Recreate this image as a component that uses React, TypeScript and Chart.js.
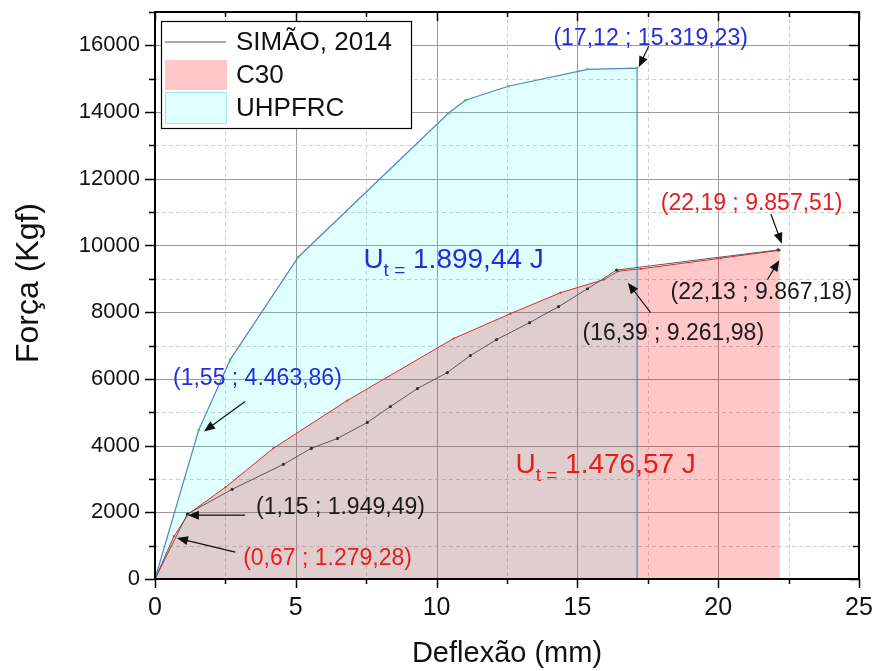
import React, { useEffect, useRef } from 'react';
import { Chart, registerables } from 'chart.js';

Chart.register(...registerables);

const FONT = '"Liberation Sans", Arial, Helvetica, sans-serif';

// ---- data ----
const seriesLabels = ['SIMÃO, 2014', 'C30', 'UHPFRC'];

const simaoX = [0, 1.15, 2.74, 4.56, 5.55, 6.48, 7.54, 8.36, 9.32, 10.38, 11.2, 12.13, 13.3, 14.33, 15.36, 16.39, 22.13];
const simaoY = [0, 1949.49, 2690, 3438, 3916, 4215, 4694, 5172, 5710, 6190, 6700, 7178, 7686, 8165, 8703, 9261.98, 9867.18];

const c30X = [0, 0.67, 1.2, 2.5, 4.2, 6.83, 10.6, 12.62, 14.4, 15.93, 16.46, 17.25, 20.1, 22.19];
const c30Y = [0, 1279.28, 1960, 2750, 3918, 5354, 7208, 7955, 8584, 8973, 9230, 9300, 9620, 9857.51];

const uhpX = [0, 1.55, 2.67, 5.09, 10.42, 11.02, 12.55, 15.36, 17.12, 17.12];
const uhpY = [0, 4463.86, 6577, 9656, 13966, 14355, 14774, 15282, 15319.23, 0];

// axes
const xMin = 0, xMax = 25, xStep = 2.5, xMajor = 5;
const yMin = 0, yMax = 17000, yStep = 1000, yMajor = 2000;
const xTitle = 'Deflexão (mm)';
const yTitle = 'Força (Kgf)';

// point annotations (data units)
const noteTexts = ['(17,12 ; 15.319,23)', '(22,19 ; 9.857,51)', '(22,13 ; 9.867,18)', '(16,39 ; 9.261,98)', '(1,55 ; 4.463,86)', '(1,15 ; 1.949,49)', '(0,67 ; 1.279,28)'];
const noteColors = ['#1f2ee0', '#e81c1c', '#1a1a1a', '#1a1a1a', '#1f2ee0', '#1a1a1a', '#e81c1c'];
const noteX = [14.15, 17.96, 18.31, 15.18, 0.64, 3.59, 3.13];
const noteY = [16210, 11245, 8583, 7357, 6011, 2153, 598];
const arrowFromX = [17.53, 21.87, 21.75, 17.6, 3.2, 3.2, 2.85];
const arrowFromY = [15970, 10946, 8980, 7985, 5323, 1914, 807];
const arrowToX = [17.18, 22.26, 22.17, 16.79, 1.74, 1.17, 0.78];
const arrowToY = [15342, 10049, 9560, 8882, 4426, 1914, 1226];

// energy labels
const energyTexts = ['1.899,44 J', '1.476,57 J'];
const energyColors = ['#1f2ee0', '#e81c1c'];
const energyX = [7.4, 12.8];
const energyY = [9331, 3170];

const C30_FILL = 'rgba(255,0,0,0.22)';
const UHP_FILL = 'rgba(0,255,255,0.12)';

function isMult(v: number, m: number) {
  const r = Math.abs(v / m - Math.round(v / m));
  return r < 1e-6;
}

function drawArrow(ctx: CanvasRenderingContext2D, x1: number, y1: number, x2: number, y2: number) {
  const ang = Math.atan2(y2 - y1, x2 - x1);
  const hl = 11, hw = 4.5;
  ctx.beginPath();
  ctx.moveTo(x1, y1);
  ctx.lineTo(x2 - Math.cos(ang) * hl * 0.8, y2 - Math.sin(ang) * hl * 0.8);
  ctx.strokeStyle = '#111';
  ctx.lineWidth = 1.2;
  ctx.stroke();
  ctx.beginPath();
  ctx.moveTo(x2, y2);
  ctx.lineTo(x2 - Math.cos(ang) * hl - Math.sin(ang) * hw, y2 - Math.sin(ang) * hl + Math.cos(ang) * hw);
  ctx.lineTo(x2 - Math.cos(ang) * hl + Math.sin(ang) * hw, y2 - Math.sin(ang) * hl - Math.cos(ang) * hw);
  ctx.closePath();
  ctx.fillStyle = '#111';
  ctx.fill();
}

const decorPlugin = {
  id: 'decor',
  beforeDraw(chart: any) {
    const { ctx, chartArea: ca } = chart;
    const xs = chart.scales.x, ys = chart.scales.y;
    ctx.save();
    ctx.lineWidth = 1;
    xs.ticks.forEach((t: any) => {
      const px = Math.round(xs.getPixelForValue(t.value)) + 0.5;
      const major = isMult(t.value, xMajor);
      ctx.strokeStyle = major ? '#9c9c9c' : '#cfcfcf';
      ctx.setLineDash(major ? [] : [4, 3]);
      ctx.beginPath();
      ctx.moveTo(px, ca.top);
      ctx.lineTo(px, ca.bottom);
      ctx.stroke();
    });
    ys.ticks.forEach((t: any) => {
      const py = Math.round(ys.getPixelForValue(t.value)) + 0.5;
      const major = isMult(t.value, yMajor);
      ctx.strokeStyle = major ? '#9c9c9c' : '#cfcfcf';
      ctx.setLineDash(major ? [] : [4, 3]);
      ctx.beginPath();
      ctx.moveTo(ca.left, py);
      ctx.lineTo(ca.right, py);
      ctx.stroke();
    });
    ctx.restore();
  },
  afterDraw(chart: any) {
    const { ctx, chartArea: ca } = chart;
    const xs = chart.scales.x, ys = chart.scales.y;
    ctx.save();
    ctx.setLineDash([]);
    // frame
    ctx.strokeStyle = '#000';
    ctx.lineWidth = 2;
    ctx.strokeRect(ca.left, ca.top, ca.right - ca.left, ca.bottom - ca.top);
    // tick marks
    ctx.lineWidth = 1.5;
    xs.ticks.forEach((t: any) => {
      const px = Math.round(xs.getPixelForValue(t.value)) + 0.5;
      const len = isMult(t.value, xMajor) ? 9 : 5;
      ctx.beginPath();
      ctx.moveTo(px, ca.bottom);
      ctx.lineTo(px, ca.bottom + len);
      ctx.moveTo(px, ca.top);
      ctx.lineTo(px, ca.top + len);
      ctx.stroke();
    });
    ys.ticks.forEach((t: any) => {
      const py = Math.round(ys.getPixelForValue(t.value)) + 0.5;
      const len = isMult(t.value, yMajor) ? 10 : 6;
      ctx.beginPath();
      ctx.moveTo(ca.left, py);
      ctx.lineTo(ca.left - len, py);
      ctx.moveTo(ca.right, py);
      ctx.lineTo(ca.right - len, py);
      ctx.stroke();
    });

    // y-axis title
    ctx.save();
    ctx.translate(29, 283);
    ctx.rotate(-Math.PI / 2);
    ctx.textAlign = 'center';
    ctx.textBaseline = 'middle';
    ctx.fillStyle = '#111';
    ctx.font = `32px ${FONT}`;
    ctx.fillText(yTitle, 0, 0);
    ctx.restore();

    // annotations
    ctx.textAlign = 'left';
    ctx.textBaseline = 'middle';
    ctx.font = `23px ${FONT}`;
    noteTexts.forEach((txt, i) => {
      ctx.fillStyle = noteColors[i];
      ctx.fillText(txt, xs.getPixelForValue(noteX[i]), ys.getPixelForValue(noteY[i]));
      drawArrow(ctx,
        xs.getPixelForValue(arrowFromX[i]), ys.getPixelForValue(arrowFromY[i]),
        xs.getPixelForValue(arrowToX[i]), ys.getPixelForValue(arrowToY[i]));
    });

    // energy labels with subscript
    ctx.textBaseline = 'alphabetic';
    energyTexts.forEach((txt, i) => {
      const px = xs.getPixelForValue(energyX[i]);
      const py = ys.getPixelForValue(energyY[i]);
      ctx.fillStyle = energyColors[i];
      ctx.font = `28px ${FONT}`;
      ctx.fillText('U', px, py);
      let w = ctx.measureText('U').width;
      ctx.font = `19px ${FONT}`;
      ctx.fillText('t =', px + w, py + 8);
      w += ctx.measureText('t =').width;
      ctx.font = `28px ${FONT}`;
      ctx.fillText(' ' + txt, px + w, py);
    });

    // legend
    const lx = ca.left + 6, ly = ca.top + 9, lw = 250, lh = 107;
    ctx.fillStyle = '#fff';
    ctx.fillRect(lx, ly, lw, lh);
    ctx.strokeStyle = '#000';
    ctx.lineWidth = 1.2;
    ctx.strokeRect(lx + 0.5, ly + 0.5, lw, lh);
    const rows = [21, 54, 87];
    const ds = chart.data.datasets;
    ctx.strokeStyle = '#888';
    ctx.lineWidth = 1.5;
    ctx.beginPath();
    ctx.moveTo(lx + 4, ly + rows[0]);
    ctx.lineTo(lx + 65, ly + rows[0]);
    ctx.stroke();
    ctx.fillStyle = ds[1].backgroundColor;
    ctx.fillRect(lx + 4, ly + rows[1] - 15, 62, 30);
    ctx.fillStyle = ds[2].backgroundColor;
    ctx.fillRect(lx + 4, ly + rows[2] - 16, 62, 32);
    ctx.strokeStyle = 'rgba(140,220,220,0.7)';
    ctx.lineWidth = 1;
    ctx.strokeRect(lx + 4.5, ly + rows[2] - 15.5, 61, 31);
    ctx.fillStyle = '#111';
    ctx.font = `26px ${FONT}`;
    ctx.textBaseline = 'middle';
    ds.forEach((d: any, i: number) => {
      ctx.fillText(d.label, lx + 75, ly + rows[i] + 1);
    });
    ctx.restore();
  },
};

export default function App() {
  const ref = useRef<HTMLCanvasElement | null>(null);
  useEffect(() => {
    if (!ref.current) return;
    const chart = new Chart(ref.current, {
      type: 'line',
      data: {
        datasets: [
          {
            label: seriesLabels[0],
            data: simaoX.map((x, i) => ({ x, y: simaoY[i] })),
            borderColor: '#5a5a5a',
            borderWidth: 1,
            pointRadius: 1.6,
            pointBackgroundColor: '#333',
            pointBorderWidth: 0,
            fill: false,
            order: 0,
          },
          {
            label: seriesLabels[1],
            data: c30X.map((x, i) => ({ x, y: c30Y[i] })),
            borderColor: '#e02828',
            borderWidth: 1,
            pointRadius: 1,
            pointBackgroundColor: '#e02828',
            pointBorderWidth: 0,
            backgroundColor: C30_FILL,
            fill: 'origin',
            order: 2,
          },
          {
            label: seriesLabels[2],
            data: uhpX.map((x, i) => ({ x, y: uhpY[i] })),
            borderColor: '#4a86cc',
            borderWidth: 1.2,
            pointRadius: uhpX.map((_, i) => (i === uhpX.length - 1 ? 0 : 1.3)),
            pointBackgroundColor: '#3ccf3c',
            pointBorderWidth: 0,
            backgroundColor: UHP_FILL,
            fill: 'origin',
            order: 1,
          },
        ],
      },
      options: {
        animation: false,
        responsive: false,
        devicePixelRatio: 1,
        layout: { padding: { top: 12, right: 18, left: 0, bottom: 0 } },
        plugins: {
          legend: { display: false },
          tooltip: { enabled: false },
          filler: { drawTime: 'beforeDatasetsDraw' },
        },
        scales: {
          x: {
            type: 'linear',
            min: xMin,
            max: xMax,
            afterFit: (s: any) => { s.height = 92; s.paddingLeft = 0; s.paddingRight = 0; },
            grid: { display: false, drawTicks: false },
            border: { display: false },
            ticks: {
              stepSize: xStep,
              padding: 14,
              color: '#111',
              font: { family: FONT, size: 25 },
              maxRotation: 0,
              autoSkip: false,
              callback: (v: any) => (isMult(Number(v), xMajor) ? String(v) : ''),
            },
            title: {
              display: true,
              text: xTitle,
              color: '#111',
              font: { family: FONT, size: 29 },
              padding: { top: 0, bottom: 0 },
            },
          },
          y: {
            type: 'linear',
            min: yMin,
            max: yMax,
            afterFit: (s: any) => { s.width = 155; s.paddingTop = 0; s.paddingBottom = 0; },
            grid: { display: false, drawTicks: false },
            border: { display: false },
            ticks: {
              stepSize: yStep,
              padding: 15,
              color: '#111',
              font: { family: FONT, size: 22 },
              autoSkip: false,
              callback: (v: any) => (isMult(Number(v), yMajor) ? String(v) : ''),
            },
            title: { display: false },
          },
        },
      },
      plugins: [decorPlugin],
    } as any);
    return () => chart.destroy();
  }, []);
  return (
    <div style={{ position: 'fixed', left: 0, top: 0, width: 877, height: 671, background: '#fff' }}>
      <canvas ref={ref} width={877} height={671} style={{ display: 'block' }} />
    </div>
  );
}
